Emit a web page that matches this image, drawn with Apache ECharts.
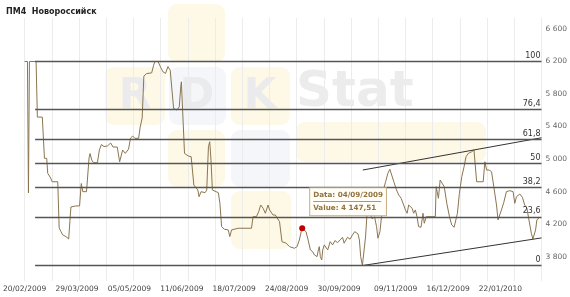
<!DOCTYPE html>
<html><head><meta charset="utf-8">
<script src="https://cdn.jsdelivr.net/npm/echarts@6/dist/echarts.min.js"></script>
<style>html,body{margin:0;padding:0;background:#fff}#c{width:570px;height:297px}</style>
</head><body><div id="c"></div>
<script>
const title = 'ПМ4  Новороссийск';
const xLabelDays = [0,37,74,111,148,185,222,262,299,336];
const xLabels = ['20/02/2009','29/03/2009','05/05/2009','11/06/2009','18/07/2009','24/08/2009','30/09/2009','09/11/2009','16/12/2009','22/01/2010'];
const yTicks = [3800,4200,4600,5000,5400,5800,6200,6600];
// day offset from 20/02/2009
const days = [0,2.0,2.7,3.4,8.1,9.0,12.5,14.0,15.6,16.3,
17.4,18.4,19.4,23.4,24.4,25.7,26.9,29.2,31.1,32.7,
36.2,38.8,40.0,41.1,43.7,45.5,46.2,47.4,48.6,51.4,
52.8,54.2,56.1,58.4,60.8,62.4,65.4,67.1,69.2,71.1,
73.4,74.8,76.3,77.9,80.5,81.6,83.0,84.2,86.1,89.7,
91.1,92.1,94.2,96.0,97.7,99.5,101.2,102.8,104.0,105.2,
107.5,109.2,110.3,110.7,111.5,112.9,115.6,117.6,118.8,119.5,
120.9,122.3,123.2,124.6,127.4,128.6,129.8,130.7,131.6,132.6,
134.0,136.8,137.9,139.1,141.0,143.8,144.9,146.1,150.8,160.2,
161.3,163.7,165.3,166.7,168.4,170.0,171.9,173.0,175.4,177.0,
178.4,180.0,181.7,183.1,184.7,187.0,188.2,190.5,192.4,194.0,
195.3,196,198.7,199.9,201.8,203.4,204.6,206.5,207.4,208.1,
208.8,209.8,210.5,211.6,212.8,214.0,215.8,217.5,219.1,221.0,
222.8,224.5,225.6,228.0,229.8,231.5,233.1,234.5,235.4,236.4,
237.3,238.5,239.6,240.8,241.7,243.8,245.5,247.1,248.5,249.5,
250.9,252.5,253.7,254.9,256.5,257.9,259.3,260.7,262.6,264.2,
265.9,267.3,268.9,270.1,271.2,272.4,273.6,274.7,275.9,277.1,
278.2,279.9,281.3,282.2,283.6,290.0,290.6,291.5,292.2,293.4,
294.6,296.3,298.1,300.0,301.6,303.3,304.7,305.6,307.0,308.7,
310.3,311.7,313.3,315.7,317.3,318.7,319.2,323.8,325.0,326.2,
328.0,329.7,331.3,333.2,334.3,335.5,336.7,338.3,340.2,342.5,
344.9,346.1,347.3,349.6,351.5,353.1,354.7,356.1,357.8,358.9,
360.1,360.8,361.7,363.1];
const prices = [6200,6200,4583,6200,6200,5516,5516,5009,5009,4825,
4847,4767,4721,4721,4153,4107,4067,4046,4017,4411,
4423,4423,4699,4599,4599,5013,5068,4988,4955,4955,
5111,5178,5154,5160,5197,5148,5148,4967,5111,5070,
5123,5258,5283,5255,5255,5393,5504,6020,6051,6060,
6155,6200,6200,6130,6073,6053,6137,6094,6081,5623,
5602,5643,5897,5950,5946,5070,5037,5029,5037,4681,
4660,4619,4537,4599,4586,4619,5151,5213,4988,4619,
4599,4586,4456,4169,4137,4128,4046,4128,4149,4149,
4291,4291,4353,4435,4395,4333,4435,4374,4312,4312,
4333,4230,3984,4005,3965,3923,3907,3903,3923,4005,
4107,4147.51,4107,4026,3882,3861,3821,3800,3882,3923,
3800,3759,3882,3944,3923,3882,3984,3944,3997,3972,
4005,4038,3965,4038,4014,4067,4107,4128,4079,4005,
3800,3690,3690,4054,4312,4333,4263,4291,4169,4026,
4107,4374,4644,4721,4825,4874,4865,4721,4619,4558,
4517,4497,4374,4333,4435,4414,4395,4333,4374,4291,
4169,4161,4333,4210,4291,4291,4660,4681,4517,4742,
4721,4660,4456,4291,4189,4161,4169,4333,4579,4783,
4906,5029,5070,5090,5111,5090,4721,4721,4967,4865,
4865,4844,4660,4435,4251,4251,4374,4463,4599,4611,
4599,4456,4537,4570,4530,4435,4395,4251,4087,4017,
4020,4128,4251,4272];
const fibHigh = 6200, fibLow = 3690;
const fibPcts = [100, 76.4, 61.8, 50, 38.2, 23.6, 0];
const fibStartDay = 7.4, fibEndDay = 365;
const channelUpper = [[238.8, 4865], [365, 5262]];
const channelLower = [[238.5, 3690], [365, 4030]];
const tipDate = '04/09/2009', tipDay = 196, tipValue = 4147.51;

const X_MAX = 365, X_STEP = X_MAX / 19;
const thou = s => s.replace(/\B(?=(\d{3})+(?!\d))/g, ' ');
const fmtInt = v => thou(String(Math.round(v)));
const fmtDec = v => { const p = v.toFixed(2).split('.'); return thou(p[0]) + ',' + p[1]; };
const fmtPct = p => String(p).replace('.', ',');

const fibData = fibPcts.map(p => {
  const lvl = fibLow + p / 100 * (fibHigh - fibLow);
  return [{coord: [fibStartDay, lvl], name: fmtPct(p)}, {coord: [fibEndDay, lvl]}];
});

const Y = '#fef8e6', B = '#f5f6fa', L = '#ebebed';
const tiles = [
  [168,4,57,58,Y],[105,67,60,58,Y],[169,67,57,58,B],[231,67,59,58,Y],
  [168,130,57,57,Y],[231,130,59,57,B],[231,191,60,58,Y],[296,122,190,40,Y]
];
const wm = tiles.map(t => ({type:'rect', z:-5, silent:true, shape:{x:t[0],y:t[1],width:t[2],height:t[3],r:9}, style:{fill:t[4]}}));
[['R',135],['D',197],['K',260]].forEach(a => wm.push({type:'text', z:-4, silent:true,
  style:{text:a[0], x:a[1], y:97, align:'center', verticalAlign:'middle', font:'bold 42px "DejaVu Sans"', fill:L}}));
wm.push({type:'text', z:-4, silent:true, style:{text:'Stat', x:296, y:93, verticalAlign:'middle', font:'bold 50px "DejaVu Sans"', fill:'#ececec'}});

const chart = echarts.init(document.getElementById('c'));
chart.setOption({
  animation: false,
  textStyle: {fontFamily: 'DejaVu Sans'},
  graphic: {elements: wm},
  title: {text: title, left: 1, top: 3, textStyle: {fontSize: 8, fontWeight: 'bold', color: '#222', fontFamily: 'DejaVu Sans'}},
  grid: {left: 21.7, right: 28, top: 18, bottom: 16},
  xAxis: {
    type: 'value', min: 0, max: X_MAX, interval: X_STEP,
    axisLine: {show: false}, axisTick: {show: false},
    splitLine: {show: true, lineStyle: {color: '#ececec', width: 1}},
    axisLabel: {customValues: xLabelDays, formatter: v => xLabels[xLabelDays.indexOf(v)], fontSize: 7.5, color: '#444', margin: 4}
  },
  yAxis: {
    type: 'value', position: 'right', min: 3500, max: 6735,
    axisLine: {show: false}, axisTick: {show: false}, splitLine: {show: false},
    axisLabel: {customValues: yTicks, formatter: fmtInt, fontSize: 7.5, color: '#666', margin: 4}
  },
  series: [
    {
      type: 'line', data: days.map((d, i) => [d, prices[i]]), showSymbol: false, symbol: 'none',
      lineStyle: {color: '#8a7550', width: 1}, z: 3, silent: true,
      markLine: {
        silent: true, symbol: ['none', 'none'], animation: false,
        lineStyle: {color: '#555', width: 1.4, type: 'solid'},
        label: {show: true, position: 'insideEndTop', formatter: p => p.name, fontSize: 8, color: '#333', distance: [1, 2]},
        data: fibData
      },
      markPoint: {
        silent: true, animation: false,
        data: [{
          coord: [tipDay, tipValue], symbol: 'circle', symbolSize: 6, itemStyle: {color: '#c00000'},
          label: {
            show: true, position: [11, -37],
            formatter: '{a|Data: ' + tipDate + '}\n{u| }\n{b|Value: ' + fmtDec(tipValue) + '}',
            backgroundColor: '#fffef8', borderColor: '#c8ad80', borderWidth: 1, padding: [2, 3, 2, 3],
            rich: {
              a: {fontSize: 7.2, fontWeight: 'bold', color: '#94733f', lineHeight: 10},
              u: {width: 68, height: 0.8, lineHeight: 2, backgroundColor: '#94733f', fontSize: 1},
              b: {fontSize: 7.2, fontWeight: 'bold', color: '#94733f', lineHeight: 11}
            }
          }
        }]
      }
    },
    {type: 'line', data: channelUpper, symbol: 'none', lineStyle: {color: '#333', width: 1}, z: 4, silent: true},
    {type: 'line', data: channelLower, symbol: 'none', lineStyle: {color: '#333', width: 1}, z: 4, silent: true}
  ]
});
</script></body></html>
